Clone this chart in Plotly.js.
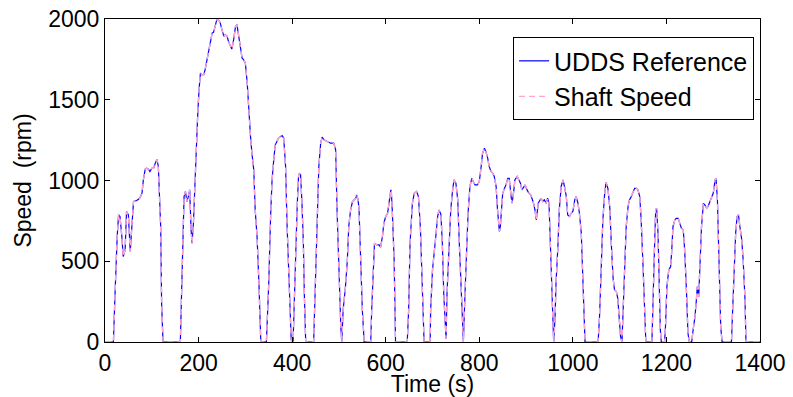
<!DOCTYPE html>
<html>
<head>
<meta charset="utf-8">
<script src="https://cdn.plot.ly/plotly-3.0.1.min.js"></script>
<style>
  html, body { margin: 0; padding: 0; background: #fff; }
  #chart { width: 793px; height: 397px; }
</style>
</head>
<body>
<div id="chart"></div>
<script>
// Time (s)
const timeS = [
  0, 18, 21, 24, 26, 29, 32, 36, 39, 43, 46, 50, 54, 56, 59, 61, 68, 74, 79, 82, 86, 89, 93, 96, 100, 104, 107, 111, 114, 116, 119, 121, 124, 161,
  163, 166, 169, 172, 175, 178, 181, 184, 186, 189, 192, 195, 198, 201, 204, 207, 211, 214, 218, 221, 225, 229, 232, 236, 239, 243, 246, 250, 254, 257, 261, 264, 268, 271, 275, 279, 282, 286, 289, 293, 296, 300, 304, 307, 311, 314, 318, 321, 325, 329, 331, 333, 345,
  346, 350, 354, 357, 361, 364, 368, 371, 375, 379, 382, 386, 389, 393, 395, 398, 402,
  404, 407, 411, 414, 418, 421, 424, 426, 429, 446,
  450, 454, 457, 461, 464, 468, 475, 482, 489, 493, 496, 500, 504, 506,
  509, 514, 518, 521, 525, 529, 536, 538, 541, 543, 546, 550, 554, 568,
  570, 574, 576, 581, 586, 589, 593, 596, 600, 604, 607, 611, 612, 614, 618, 621, 646,
  649, 652, 657, 661, 666, 670, 674, 679, 682, 695,
  696, 700, 704, 707, 711, 714, 718, 721, 724, 726, 729,
  731, 734, 736, 739, 743, 746, 750, 754, 757, 761, 764, 766,
  769, 773, 776, 780, 784, 787, 791, 796, 800, 804, 807, 811, 814, 818, 821, 825, 829, 832, 836, 839, 843, 845, 848, 850, 854, 857, 861, 864, 868, 870, 874, 876, 881, 884, 888, 891, 895, 898, 902, 906, 910, 913, 916, 919, 922, 926, 929, 932, 936, 939, 943, 946, 949, 951, 954, 957, 959,
  962, 964, 968, 971, 975, 979, 982, 986, 989, 993, 996, 1000, 1004, 1007, 1011, 1014, 1018, 1021, 1024, 1026, 1054,
  1057, 1061, 1064, 1068, 1071, 1075, 1079, 1082, 1086, 1089, 1093, 1096, 1100, 1102, 1105,
  1107, 1111, 1114, 1118, 1121, 1125, 1129, 1132, 1136, 1139, 1143, 1146, 1150, 1154, 1156, 1169,
  1171, 1175, 1177, 1179, 1182, 1184, 1187, 1189, 1196,
  1198, 1201, 1205, 1209, 1211, 1214, 1218, 1221, 1225, 1229, 1232, 1236, 1239, 1243, 1246, 1249, 1254,
  1257, 1261, 1264, 1266, 1269, 1271, 1275, 1279, 1282, 1286, 1289, 1293, 1296, 1300, 1304, 1306, 1309, 1312, 1316, 1319, 1339,
  1341, 1344, 1348, 1351, 1354, 1357, 1361, 1364, 1368, 1370, 1400
];

// UDDS reference speed (rpm)
const uddsReference = [
  0, 0, 260, 508, 650, 787, 777, 653, 529, 570, 808, 787, 560, 653, 818, 870, 876, 890, 921, 1004, 1070, 1076, 1070, 1056, 1076, 1076, 1103, 1132, 1087, 880, 715, 240, 0, 0,
  198, 611, 900, 932, 870, 900, 942, 694, 611, 735, 983, 1149, 1397, 1562, 1665, 1655, 1655, 1686, 1748, 1799, 1851, 1913, 1917, 1965, 1996, 1992, 1979, 1934, 1892, 1903, 1892, 1861, 1830, 1814, 1872, 1954, 1965, 1892, 1810, 1758, 1748, 1727, 1603, 1438, 1273, 1169, 1066, 818, 653, 364, 116, 0, 0,
  74, 364, 780, 1000, 1140, 1221, 1245, 1262, 1273, 1277, 1262, 1087, 735, 405, 178, 12, 0,
  198, 611, 859, 1045, 1035, 859, 611, 302, 0, 0,
  405, 818, 1087, 1231, 1269, 1252, 1242, 1231, 1231, 1190, 818, 405, 95, 0,
  198, 343, 508, 715, 818, 870, 890, 911, 880, 818, 508, 198, 0, 0,
  198, 570, 611, 601, 601, 587, 653, 735, 777, 797, 859, 942, 932, 818, 508, 0, 0,
  198, 611, 859, 921, 932, 900, 715, 302, 0, 0,
  198, 446, 591, 653, 777, 818, 790, 611, 302, 157, 20,
  300, 520, 632, 818, 942, 1004, 983, 880, 632, 343, 95, 0,
  260, 591, 797, 963, 1014, 994, 973, 973, 994, 1087, 1169, 1200, 1180, 1138, 1087, 1056, 1045, 1025, 963, 818, 684, 715, 839, 921, 952, 973, 1014, 1014, 901, 859, 942, 1004, 1025, 1004, 983, 942, 963, 973, 942, 921, 911, 890, 859, 818, 756, 859, 880, 890, 870, 880, 859, 890, 859, 674, 364, 54, 0,
  157, 364, 591, 818, 963, 1004, 963, 901, 787, 777, 797, 808, 880, 901, 859, 797, 674, 364, 54, 0, 0,
  157, 490, 750, 920, 990, 950, 830, 620, 395, 322, 312, 270, 145, 33, 0,
  157, 467, 715, 839, 880, 901, 932, 952, 952, 942, 901, 756, 467, 157, 0, 0,
  260, 632, 818, 828, 674, 364, 74, 0, 0,
  95, 343, 446, 467, 550, 715, 756, 766, 766, 735, 705, 694, 570, 302, 54, 0, 0,
  74, 157, 260, 343, 281, 405, 715, 859, 849, 828, 839, 870, 890, 921, 1004, 1014, 880, 467, 95, 0, 0,
  157, 405, 674, 777, 787, 715, 632, 508, 260, 0, 0
];

// Measured shaft speed (rpm) – overlaps the reference throughout
const shaftSpeed = [
  0, 0, 260, 508, 650, 787, 777, 653, 529, 570, 808, 787, 560, 653, 818, 870, 876, 890, 921, 1004, 1070, 1076, 1070, 1056, 1076, 1076, 1103, 1132, 1087, 880, 715, 240, 0, 0,
  198, 611, 900, 932, 870, 900, 942, 694, 611, 735, 983, 1149, 1397, 1562, 1665, 1655, 1655, 1686, 1748, 1799, 1851, 1913, 1917, 1965, 1996, 1992, 1979, 1934, 1892, 1903, 1892, 1861, 1830, 1814, 1872, 1954, 1965, 1892, 1810, 1758, 1748, 1727, 1603, 1438, 1273, 1169, 1066, 818, 653, 364, 116, 0, 0,
  74, 364, 780, 1000, 1140, 1221, 1245, 1262, 1273, 1277, 1262, 1087, 735, 405, 178, 12, 0,
  198, 611, 859, 1045, 1035, 859, 611, 302, 0, 0,
  405, 818, 1087, 1231, 1269, 1252, 1242, 1231, 1231, 1190, 818, 405, 95, 0,
  198, 343, 508, 715, 818, 870, 890, 911, 880, 818, 508, 198, 0, 0,
  198, 570, 611, 601, 601, 587, 653, 735, 777, 797, 859, 942, 932, 818, 508, 0, 0,
  198, 611, 859, 921, 932, 900, 715, 302, 0, 0,
  198, 446, 591, 653, 777, 818, 790, 611, 302, 157, 20,
  300, 520, 632, 818, 942, 1004, 983, 880, 632, 343, 95, 0,
  260, 591, 797, 963, 1014, 994, 973, 973, 994, 1087, 1169, 1200, 1180, 1138, 1087, 1056, 1045, 1025, 963, 818, 684, 715, 839, 921, 952, 973, 1014, 1014, 901, 859, 942, 1004, 1025, 1004, 983, 942, 963, 973, 942, 921, 911, 890, 859, 818, 756, 859, 880, 890, 870, 880, 859, 890, 859, 674, 364, 54, 0,
  157, 364, 591, 818, 963, 1004, 963, 901, 787, 777, 797, 808, 880, 901, 859, 797, 674, 364, 54, 0, 0,
  157, 490, 750, 920, 990, 950, 830, 620, 395, 322, 312, 270, 145, 33, 0,
  157, 467, 715, 839, 880, 901, 932, 952, 952, 942, 901, 756, 467, 157, 0, 0,
  260, 632, 818, 828, 674, 364, 74, 0, 0,
  95, 343, 446, 467, 550, 715, 756, 766, 766, 735, 705, 694, 570, 302, 54, 0, 0,
  74, 157, 260, 343, 281, 405, 715, 859, 849, 828, 839, 870, 890, 921, 1004, 1014, 880, 467, 95, 0, 0,
  157, 405, 674, 777, 787, 715, 632, 508, 260, 0, 0
];

const seriesNames = ["UDDS Reference", "Shaft Speed"];
const xTicks = [0, 200, 400, 600, 800, 1000, 1200, 1400];
const yTicks = [0, 500, 1000, 1500, 2000];

const FONT = "Arial, 'Liberation Sans', Helvetica, sans-serif";

const traces = [
  {
    x: timeS, y: uddsReference, name: seriesNames[0],
    type: "scatter", mode: "lines",
    line: { color: "rgb(0,0,255)", width: 1.2 }
  },
  {
    x: timeS, y: shaftSpeed, name: seriesNames[1],
    type: "scatter", mode: "lines",
    line: { color: "rgb(255,165,205)", width: 1.4, dash: "6px,4px" }
  }
];

const axisCommon = {
  showline: true, linecolor: "#000", linewidth: 1,
  mirror: "ticks", ticks: "inside", ticklen: 5, tickwidth: 1, tickcolor: "#000",
  showgrid: false, zeroline: false,
  tickfont: { family: FONT, size: 23, color: "#000" }
};

const layout = {
  width: 793, height: 397,
  margin: { l: 105, r: 33, t: 19, b: 55, pad: 0 },
  paper_bgcolor: "#fff", plot_bgcolor: "#fff",
  showlegend: true,
  xaxis: Object.assign({}, axisCommon, {
    range: [0, 1400], tickvals: xTicks, ticktext: xTicks.map(String),
    title: { text: "Time (s)", font: { family: FONT, size: 23, color: "#000" }, standoff: 0 }
  }),
  yaxis: Object.assign({}, axisCommon, {
    range: [0, 2000], tickvals: yTicks, ticktext: yTicks.map(String),
    title: { text: "Speed&nbsp;&nbsp;(rpm)", font: { family: FONT, size: 23, color: "#000" }, standoff: 10 }
  }),
  legend: {
    x: 0.623, y: 0.944, xanchor: "left", yanchor: "top",
    bgcolor: "#fff", bordercolor: "#000", borderwidth: 1,
    font: { family: FONT, size: 25, color: "#000" }
  }
};

Plotly.newPlot("chart", traces, layout, { staticPlot: true, displayModeBar: false });
</script>
</body>
</html>
